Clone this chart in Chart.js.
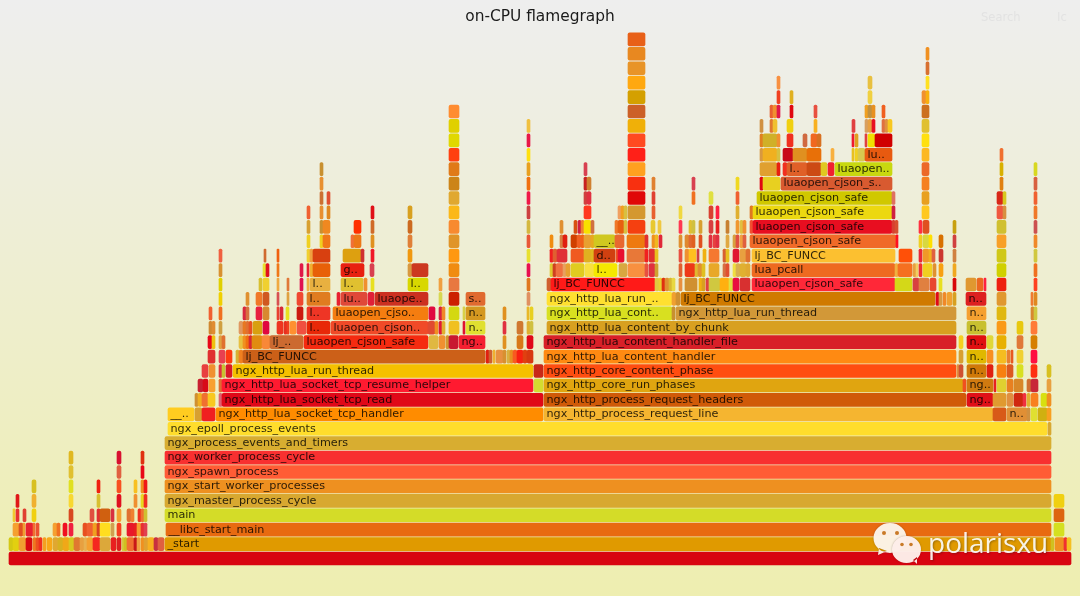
<!DOCTYPE html>
<html>
<head>
<meta charset="utf-8">
<title>on-CPU flamegraph</title>
<script src="https://cdn.jsdelivr.net/npm/chart.js@4"></script>
<style>
  html, body { margin: 0; padding: 0; }
  body { width: 1080px; height: 596px; overflow: hidden; background: linear-gradient(#eeeeee, #eeeeb0); }
  canvas { display: block; }
</style>
</head>
<body>
<canvas id="chart" width="1080" height="596"></canvas>
<script>
// each row is one stack depth: [first sample, last sample, frame name]
const row00 = [[9,1071]];
const row01 = [[9,13],[13,19],[19,26],[26,32],[33,36],[36,39],[39,42],[43,46],[47,52],[53,58],[58,63],[63,69],[69,74],[74,80],[80,84],[84,87],[87,93],[93,100],[100,110],[111,116],[117,121],[122,124],[124,127],[127,134],[134,137],[137,140],[141,144],[144,148],[148,154],[154,158],[158,164],[165,1051,"_start"],[1051,1054],[1055,1064],[1064,1067],[1067,1071]];
const row02 = [[13,19],[19,23],[23,25],[26,33],[33,35],[36,39],[53,57],[57,60],[63,67],[69,73],[83,87],[87,93],[93,97],[97,100],[100,110],[111,114],[117,121],[127,134],[134,137],[137,141],[141,144],[144,147],[166,1051,"__libc_start_main"],[1054,1064]];
const row03 = [[13,15],[16,19],[23,26],[32,36],[69,73],[90,94],[97,100],[100,110],[111,114],[117,121],[127,131],[131,134],[138,141],[141,144],[144,147],[165,1051,"main"],[1054,1064]];
const row04 = [[16,19],[32,36],[69,73],[97,100],[117,121],[134,137],[141,144],[144,147],[165,1051,"ngx_master_process_cycle"],[1054,1064]];
const row05 = [[32,36],[69,73],[97,100],[117,121],[134,137],[141,144],[144,147],[165,1051,"ngx_start_worker_processes"]];
const row06 = [[69,73],[117,121],[141,144],[165,1051,"ngx_spawn_process"]];
const row07 = [[69,73],[117,121],[141,144],[165,1051,"ngx_worker_process_cycle"]];
const row08 = [[165,1051,"ngx_process_events_and_timers"]];
const row09 = [[168,1047,"ngx_epoll_process_events"],[1048,1051]];
const row10 = [[168,194,"__.."],[195,202],[202,215],[216,543,"ngx_http_lua_socket_tcp_handler"],[544,993,"ngx_http_process_request_line"],[993,1006],[1007,1027,"n.."],[1027,1030],[1031,1037],[1038,1047],[1047,1051]];
const row11 = [[195,198],[198,202],[202,208],[208,215],[219,222],[222,543,"ngx_http_lua_socket_tcp_read"],[544,966,"ngx_http_process_request_headers"],[967,993,"ng.."],[993,1006],[1007,1013],[1014,1023],[1023,1026],[1027,1030],[1031,1038],[1041,1047],[1047,1051]];
const row12 = [[198,203],[203,208],[209,215],[219,222],[222,533,"ngx_http_lua_socket_tcp_resume_helper"],[534,543],[544,963,"ngx_http_core_run_phases"],[963,966],[967,993,"ng.."],[994,996],[997,1006],[1007,1013],[1014,1023],[1027,1031],[1031,1038],[1047,1051]];
const row13 = [[202,208],[209,215],[219,222],[222,225],[226,232],[233,533,"ngx_http_lua_run_thread"],[534,543],[544,956,"ngx_http_core_content_phase"],[957,959],[959,963],[967,986,"n.."],[987,993],[997,1006],[1007,1013],[1017,1023],[1031,1037],[1047,1051]];
const row14 = [[208,215],[219,225],[226,232],[236,239],[239,243],[243,485,"lj_BC_FUNCC"],[486,489],[489,492],[493,495],[496,503],[503,506],[507,510],[510,513],[513,517],[517,523],[523,527],[527,533],[544,956,"ngx_http_lua_content_handler"],[959,963],[967,986,"n.."],[987,993],[997,1006],[1007,1010],[1011,1013],[1017,1023],[1031,1037]];
const row15 = [[208,212],[212,215],[219,222],[222,225],[239,243],[243,246],[246,249],[249,252],[252,262],[262,270],[270,303,"lj_.."],[304,428,"luaopen_cjson_safe"],[429,438],[439,445],[446,449],[449,458],[459,485,"ng.."],[503,506],[517,523],[527,533],[544,956,"ngx_http_lua_content_handler_file"],[959,963],[967,986,"n.."],[987,993],[997,1006],[1017,1023],[1031,1037]];
const row16 = [[209,212],[212,215],[219,222],[239,243],[243,246],[246,249],[249,252],[253,262],[263,269],[277,283],[284,287],[287,289],[290,296],[297,306],[307,330,"l.."],[331,428,"luaopen_cjson.."],[428,435],[435,438],[439,442],[442,445],[449,459],[463,465],[466,485,"n.."],[503,506],[517,523],[527,530],[530,533],[547,956,"ngx_http_lua_content_by_chunk"],[967,986,"n.."],[997,1006],[1017,1023],[1031,1037]];
const row17 = [[209,212],[219,222],[243,246],[246,249],[256,262],[263,269],[277,279],[280,283],[286,289],[297,303],[307,330,"l.."],[333,428,"luaopen_cjso.."],[429,435],[439,442],[442,445],[449,459],[463,465],[466,485,"n.."],[503,506],[527,529],[530,533],[547,672,"ngx_http_lua_cont.."],[672,675],[676,956,"ngx_http_lua_run_thread"],[967,986,"n.."],[997,1006],[1031,1034],[1034,1037]];
const row18 = [[219,222],[246,249],[256,262],[263,269],[277,279],[287,289],[297,303],[307,330,"l.."],[337,340],[341,367,"lu.."],[368,374],[375,428,"luaope.."],[439,442],[449,459],[466,485,"s.."],[527,530],[547,672,"ngx_http_lua_run_.."],[672,676],[676,680],[681,935,"lj_BC_FUNCC"],[936,939],[939,942],[943,946],[947,952],[953,956],[966,986,"n.."],[997,1006],[1031,1033],[1034,1037]];
const row19 = [[219,222],[259,262],[263,269],[277,279],[287,289],[300,303],[307,309],[310,330,"l.."],[341,363,"l.."],[364,367],[371,374],[408,428,"l.."],[439,442],[449,459],[527,530],[547,551],[551,655,"lj_BC_FUNCC"],[655,659],[659,662],[662,665],[665,669],[669,672],[672,675],[679,682],[685,697],[699,702],[702,705],[706,709],[709,720],[720,729],[729,733],[733,739],[740,750],[752,895,"luaopen_cjson_safe"],[895,912],[913,919],[919,929],[930,936],[939,942],[953,956],[966,976],[977,983],[984,986],[997,1006],[1034,1037]];
const row20 = [[219,222],[263,266],[266,269],[277,279],[300,303],[307,309],[310,313],[313,330],[341,364,"g.."],[370,374],[408,412],[412,428],[449,459],[527,530],[550,553],[553,556],[556,563],[563,566],[566,570],[571,584],[585,594],[594,617,"l.."],[619,627],[628,645],[645,648],[649,655],[655,658],[679,682],[685,695],[695,698],[698,702],[702,705],[709,719],[723,726],[726,729],[733,736],[736,740],[740,746],[746,750],[752,895,"lua_pcall"],[895,898],[898,912],[913,916],[916,918],[919,922],[923,932],[933,936],[939,943],[953,956],[997,1006],[1034,1037]];
const row21 = [[219,222],[264,266],[277,279],[307,310],[310,313],[313,330],[343,361],[361,364],[371,374],[408,412],[449,459],[527,530],[550,553],[553,557],[557,567],[571,584],[584,591],[591,594],[594,615,"d.."],[616,618],[618,624],[627,645],[645,648],[649,655],[655,658],[679,682],[685,689],[689,696],[697,699],[703,706],[709,719],[723,726],[726,729],[733,739],[740,746],[746,750],[752,895,"lj_BC_FUNCC"],[899,912],[919,922],[923,929],[929,932],[932,935],[939,943],[953,956],[997,1006],[1034,1037]];
const row22 = [[307,310],[320,323],[323,330],[351,354],[354,361],[371,374],[408,412],[449,459],[527,530],[550,553],[560,563],[563,567],[571,577],[577,581],[581,584],[584,591],[591,594],[594,615,"__.."],[615,624],[627,645],[645,648],[652,655],[655,658],[659,662],[679,682],[685,689],[689,692],[692,695],[699,702],[709,712],[713,716],[716,719],[726,729],[733,736],[736,739],[740,743],[743,746],[750,896,"luaopen_cjson_safe"],[896,898],[919,922],[923,929],[929,932],[939,943],[953,956],[997,1006],[1034,1037]];
const row23 = [[307,310],[320,323],[323,330],[354,361],[371,374],[408,412],[449,459],[527,530],[560,563],[574,577],[578,581],[581,584],[584,591],[591,594],[615,618],[618,624],[624,627],[628,645],[651,655],[658,661],[679,682],[689,692],[692,695],[699,702],[709,713],[716,719],[726,729],[736,739],[740,743],[743,746],[750,753],[753,892,"luaopen_cjson_safe"],[892,895],[895,898],[919,922],[923,929],[953,956],[997,1006],[1034,1037]];
const row24 = [[307,310],[320,323],[327,330],[371,374],[408,412],[449,459],[527,530],[584,591],[618,621],[621,624],[624,627],[628,645],[652,655],[679,682],[709,713],[716,719],[736,739],[750,753],[753,892,"luaopen_cjson_safe"],[892,895],[922,929],[997,1003],[1003,1006],[1034,1037]];
const row25 = [[320,323],[327,330],[449,459],[527,530],[584,587],[587,591],[628,645],[652,655],[692,695],[709,713],[736,739],[757,892,"luaopen_cjson_safe"],[892,895],[922,929],[997,1003],[1003,1006],[1034,1037]];
const row26 = [[320,323],[449,459],[527,530],[584,587],[587,591],[628,645],[652,655],[692,695],[736,739],[760,763],[763,780],[781,892,"luaopen_cjson_s.."],[922,929],[1000,1003],[1034,1037]];
const row27 = [[320,323],[449,459],[527,530],[584,587],[628,645],[760,777],[777,780],[783,787],[787,807,"l.."],[807,821],[821,827],[828,834],[835,892,"luaopen.."],[922,929],[1000,1003],[1034,1037]];
const row28 = [[449,459],[527,530],[628,645],[760,763],[763,777],[777,780],[783,793],[793,807],[807,821],[831,834],[852,854],[855,858],[858,865],[865,892,"lu.."],[922,929],[1000,1003]];
const row29 = [[449,459],[527,530],[628,645],[760,763],[763,777],[777,780],[787,793],[803,807],[811,817],[817,821],[852,854],[855,858],[865,867],[868,875],[875,892],[922,929]];
const row30 = [[449,459],[527,530],[628,645],[760,763],[770,773],[773,777],[787,793],[814,817],[852,855],[865,868],[868,872],[872,875],[882,885],[885,888],[888,892],[922,929]];
const row31 = [[449,459],[628,645],[770,773],[773,777],[777,780],[790,793],[814,817],[865,868],[868,872],[872,875],[882,885],[922,929]];
const row32 = [[628,645],[777,780],[790,793],[868,872],[922,926],[926,929]];
const row33 = [[628,645],[777,780],[868,872],[926,929]];
const row34 = [[628,645],[926,929]];
const row35 = [[628,645],[926,929]];
const row36 = [[628,645]];

const rows = [row00,row01,row02,row03,row04,row05,row06,row07,row08,row09,row10,row11,row12,row13,row14,row15,row16,row17,row18,row19,row20,row21,row22,row23,row24,row25,row26,row27,row28,row29,row30,row31,row32,row33,row34,row35,row36];

// fill colours, same order as the rows above
const tints = [
  ["#d80510"],
  ["#d4c814","#e2d010","#f0a030","#d80a10","#f07820","#ee5020","#f03020","#f5a020","#f8a818","#e0a830","#d8b020","#f0a818","#d8c820","#e07830","#e8a040","#e8b050","#f5a030","#f52820","#dca83a","#e82020","#dd2020","#d8c840","#d0c020","#f07030","#c81818","#f0a040","#f09020","#e0a030","#f8b020","#c83040","#e06040","#e09a00","#d0c020","#f09020","#f03030","#f5c020"],
  ["#f5a030","#e05020","#f0a030","#e82030","#f07030","#ec5030","#f5a030","#f07020","#f01020","#f02040","#e85020","#f06030","#f0a020","#d84020","#ffdd20","#d0a050","#f54020","#e8182a","#e82020","#f5a030","#e83030","#e04050","#e86a10","#d4e020"],
  ["#f0c830","#e83030","#e04030","#f0d010","#d84820","#e05040","#e03030","#d06010","#d83040","#f5a030","#e07030","#f08030","#f03020","#f07030","#d0c030","#d4dc28","#dd6510"],
  ["#e01818","#f0b030","#f8d830","#d8c030","#e01020","#f09030","#e8d820","#f03020","#d8a830","#f0d010"],
  ["#d8c020","#e0e020","#f02010","#f85020","#f8c020","#f09020","#f01818","#ee9020"],
  ["#e0c030","#e06040","#e80818","#ff5c35"],
  ["#e0b820","#d81030","#e03010","#f83030"],
  ["#d8ad30"],
  ["#ffdd2c","#d8a830"],
  ["#ffcc20","#d8a030","#f02020","#ff8c00","#f5b530","#d85a18","#e08f35","#d09040","#e0e030","#d0b010","#f8a020"],
  ["#d09030","#f0b020","#f07030","#f8c820","#e06070","#e00818","#d05a08","#e01018","#e09a30","#e08f40","#d02810","#f03040","#e0b030","#f88020","#d8e010","#f09020"],
  ["#c82030","#d80a18","#f8a030","#e06a30","#ff1a30","#d4dc30","#e0a510","#f05020","#d07a10","#e82020","#e0d030","#e88020","#d88828","#d07030","#c82838","#e8a040"],
  ["#e84040","#f09030","#e03040","#c8c030","#d81828","#f5c000","#c82818","#ff4d10","#e09040","#d05030","#d07808","#e02010","#f88010","#dc5820","#d8e020","#ff3010","#d8c020"],
  ["#e03030","#e84050","#ff3a10","#d8b030","#f08020","#cc6018","#e02010","#d06030","#f0b030","#e89040","#d89030","#d8b040","#e89020","#f85a20","#f82010","#e04010","#d83810","#ff8a12","#d8a030","#e0b800","#f89020","#f5bc20","#e88030","#e85820","#f0d030","#ff1040"],
  ["#e80818","#f0c010","#e0a040","#e07030","#e8c040","#f09020","#f07010","#d82830","#e08c10","#f88838","#cc6a30","#f52a10","#e0b840","#f09030","#d09830","#c81830","#f52030","#e09020","#d87818","#e00818","#d82028","#f5d020","#e01010","#e0d838","#e8b000","#e07838","#d68000"],
  ["#d08830","#e08c30","#d0a040","#e09860","#e87820","#e07030","#e85020","#d8a010","#e00840","#ee3520","#e83020","#f04020","#ff9030","#f05040","#e82808","#f04a28","#e04a30","#f09020","#e01838","#e0b030","#f0c020","#e01030","#e0e030","#e03040","#d07830","#e0b030","#d0c040","#d8a020","#c8c030","#fa9a18","#e8c810","#ff7a38"],
  ["#f06030","#f07020","#d82840","#d87040","#e82040","#d88830","#e84030","#d82838","#e8e020","#cc1a10","#ee3525","#f57d10","#e00a40","#d82040","#f08828","#d4d810","#d8d048","#d49820","#e09020","#e8b828","#e8d020","#d8e020","#c89030","#d29838","#f5a030","#e0b810","#d88830","#d0c840"],
  ["#f0d000","#e09030","#f07828","#d05820","#d85050","#e0a040","#f04830","#e07c20","#e82030","#e04838","#e02038","#cc3020","#d8d850","#cc2000","#e06a30","#e09060","#ffe030","#f0a030","#d09030","#d07a00","#e00818","#d89840","#f08828","#f0a030","#d8a020","#dd2020","#e09830","#f07a30","#e08820"],
  ["#e0d000","#d8c030","#f0d030","#f0a840","#e07838","#e01050","#f0b040","#e8b040","#e0c030","#f09030","#e8e020","#d8d800","#f0a040","#e87840","#e07820","#d06030","#ff1a18","#e0c840","#e8d030","#e03010","#e09030","#d8b830","#e8d840","#e89040","#d09030","#f0b010","#d8a020","#e04040","#d0c840","#ffb010","#e0e040","#e81040","#d83030","#ff2838","#d4d818","#d84040","#e08040","#e84830","#e8e020","#d80808","#e09830","#ec6820","#ff2040","#ee2010","#ff4020"],
  ["#d89030","#e8e030","#e01020","#f07818","#e01848","#e82030","#f0b030","#e86008","#e82010","#d84050","#d89840","#cc3820","#f08c10","#e81050","#e0c830","#d04020","#f07040","#e8a060","#e8a030","#e0cc20","#f8e040","#f5e800","#d8a840","#f89040","#e85040","#e03040","#d0a030","#e06030","#ee3818","#e0b830","#e09030","#e0c020","#e8a828","#d87040","#e05030","#f0e040","#d8b050","#e0b030","#e0a830","#ee6a20","#f0b040","#f57020","#e8a040","#f0d060","#f03030","#f0d020","#e09030","#f8a010","#f0a820","#d0d000","#f07020"],
  ["#f06040","#d06a30","#f06010","#f0d030","#f0a040","#d84010","#dda010","#d03030","#f01828","#f09810","#ff9810","#e8e030","#f02020","#e06030","#e03038","#f05a20","#e0b020","#e0b820","#d04010","#f05020","#e81030","#e87838","#f02020","#e03030","#e8c020","#e85040","#f09030","#ffc020","#d04040","#f0b010","#f57830","#d86030","#e8c020","#e01830","#e8a040","#e07030","#fcc030","#ff5008","#e82838","#f09828","#f0b020","#e06040","#cc3830","#d08040","#d0c818","#d0c840"],
  ["#f0d020","#f0d020","#f07818","#f07038","#ec7818","#e09020","#e08038","#e09428","#e85838","#f08c10","#d88040","#e02010","#d04000","#f06020","#f06018","#e8a030","#e8a820","#d0c820","#e86830","#ee7a10","#e03030","#f09020","#f0b820","#e02838","#e09030","#e08830","#e06830","#e06020","#e05020","#e03040","#e84040","#e03040","#e0a840","#d8a040","#e05040","#f0a040","#e06040","#f06a28","#ff1020","#f0d020","#d8d840","#ffe000","#d87000","#d04040","#f8a028","#f08828"],
  ["#d8a030","#c89030","#f08820","#ff3000","#d06a28","#cc6a20","#f88a30","#d4b840","#e09030","#d85010","#d02040","#f08030","#f8e000","#d07040","#f07828","#e86010","#d8c040","#f54010","#e8c830","#f0c840","#ff3850","#e0c030","#d0c040","#d8a030","#d84040","#e82020","#c88030","#f09830","#e0c040","#f09030","#f05030","#e80e20","#d84030","#d85030","#ff3040","#e05020","#c8a010","#d0c030","#cc5050"],
  ["#f06030","#e89030","#e08820","#e01018","#d8a020","#fbb818","#cc4040","#ff3820","#f0a060","#f0a020","#d8c040","#d49830","#e86030","#f0d840","#d84030","#ff2040","#e0b030","#e07820","#ecd810","#d02040","#ffc820","#f05840","#d89040","#f07828"],
  ["#cc7030","#e05030","#e0a830","#f01848","#d04040","#e03040","#e00808","#e04030","#f07020","#e0e040","#f06030","#d0c800","#e07060","#e8a020","#d82818","#d8c820","#f06030"],
  ["#e89030","#cc8418","#f07010","#c82020","#d08030","#f83010","#e08030","#d84050","#f0d820","#e00810","#e8d020","#d85a30","#f58020","#e08010","#d86040"],
  ["#c89030","#e07a18","#e8a020","#d84050","#ffa020","#e0a030","#e82010","#f03020","#e06028","#cc4a14","#e0c820","#f02030","#c8d810","#ec6828","#d8b000","#d8d820"],
  ["#ff4010","#ffe010","#ff2018","#d89840","#f0b020","#d8c040","#c80818","#e09020","#e87008","#f8b040","#e8c020","#f0d020","#d8c850","#e85a10","#fcb820","#f07030"],
  ["#e0d800","#e81848","#ff4a20","#e08020","#d0b028","#f09030","#f03020","#d06a40","#f06820","#d87020","#f01830","#e0a020","#e04040","#f0e000","#d00000","#ffe010"],
  ["#e0d000","#f0c040","#f0b008","#d09040","#e07830","#f0c030","#f0d010","#f8b020","#e04040","#d8a060","#e8a040","#e81020","#e07040","#e09040","#f8c820","#e0c030"],
  ["#ff8c30","#cc6028","#e86030","#f09030","#e01848","#e00810","#e85040","#f0a020","#c09040","#e89020","#f06020","#cc7020"],
  ["#d4a000","#f04020","#e0b020","#f0d040","#f09030","#f8b010"],
  ["#ffa810","#f89040","#e8c040","#ffe020"],
  ["#e89428","#d87030"],
  ["#e88820","#f09020"],
  ["#e86018"]
];

const chartTitle = "on-CPU flamegraph";

const frames = [];
const frameColors = [];
rows.forEach(function (row, depth) {
  row.forEach(function (frame, i) {
    frames.push({ x: [frame[0], frame[1]], y: depth, name: frame[2] });
    frameColors.push(tints[depth][i] || "#f09030");
  });
});

// frame names sit inside the bars, the rest of the svg chrome around them
const frameText = {
  id: "frameText",
  afterDatasetsDraw(chart) {
    const ctx = chart.ctx;
    const xs = chart.scales.x;
    const ys = chart.scales.y;
    ctx.save();
    ctx.font = '11.2px "DejaVu Sans"';
    ctx.textBaseline = "middle";
    ctx.fillStyle = "rgba(0,0,0,0.82)";
    frames.forEach(function (f) {
      if (f.name) ctx.fillText(f.name, xs.getPixelForValue(f.x[0]) + 2.5, ys.getPixelForValue(f.y));
    });
    ctx.fillStyle = "#e2e2e2";
    ctx.font = '11.5px "DejaVu Sans"';
    ctx.fillText("Search", 981, 18);
    ctx.fillText("Ic", 1057, 18);
    ctx.restore();
  },
};

const watermark = {
  id: "watermark",
  afterDraw(chart) {
    const ctx = chart.ctx;
    ctx.save();
    ctx.shadowColor = "rgba(60,40,20,0.35)";
    ctx.shadowBlur = 2;
    ctx.fillStyle = "rgba(255,248,238,0.95)";
    ctx.beginPath();
    ctx.ellipse(890, 538, 16.5, 15, 0, 0, Math.PI * 2);
    ctx.moveTo(879, 548);
    ctx.lineTo(878, 555);
    ctx.lineTo(887, 551);
    ctx.fill();
    ctx.fillStyle = "rgba(255,240,235,0.97)";
    ctx.beginPath();
    ctx.ellipse(906.5, 549.5, 14.5, 13.5, 0, 0, Math.PI * 2);
    ctx.moveTo(913, 560);
    ctx.lineTo(917, 564);
    ctx.lineTo(917, 557);
    ctx.fill();
    ctx.shadowColor = "transparent";
    ctx.fillStyle = "#c97a28";
    [[884, 533, 2], [897, 533, 2], [902, 544.5, 1.8], [911, 544.5, 1.8]].forEach(function (e) {
      ctx.beginPath();
      ctx.arc(e[0], e[1], e[2], 0, Math.PI * 2);
      ctx.fill();
    });
    ctx.shadowColor = "rgba(40,30,20,0.4)";
    ctx.shadowBlur = 2;
    ctx.shadowOffsetX = 1;
    ctx.shadowOffsetY = 1;
    ctx.fillStyle = "rgba(255,255,255,0.9)";
    ctx.font = '400 28px "Open Sans"';
    ctx.textBaseline = "alphabetic";
    ctx.fillText("polarisxu", 928, 553);
    ctx.restore();
  },
};

const ctx = document.getElementById("chart").getContext("2d");
const flameChart = new Chart(ctx, {
  type: "bar",
  data: {
    datasets: [
      {
        data: frames,
        backgroundColor: frameColors,
        borderWidth: 0,
        borderSkipped: false,
        borderRadius: 2,
        barThickness: 13,
      },
    ],
  },
  options: {
    indexAxis: "y",
    responsive: false,
    animation: false,
    devicePixelRatio: 1,
    layout: { padding: 0 },
    scales: {
      x: { type: "linear", min: 0, max: 1080, display: false },
      y: { type: "linear", min: -2.6, max: 36.65, display: false, offset: false },
    },
    plugins: {
      legend: { display: false },
      tooltip: { enabled: false },
      title: {
        display: true,
        text: chartTitle,
        color: "#1a1a1a",
        font: { family: '"DejaVu Sans"', size: 15.4, weight: "normal", lineHeight: "20px" },
        padding: { top: 7, bottom: 3 },
      },
    },
  },
  plugins: [frameText, watermark],
});
</script>
</body>
</html>
